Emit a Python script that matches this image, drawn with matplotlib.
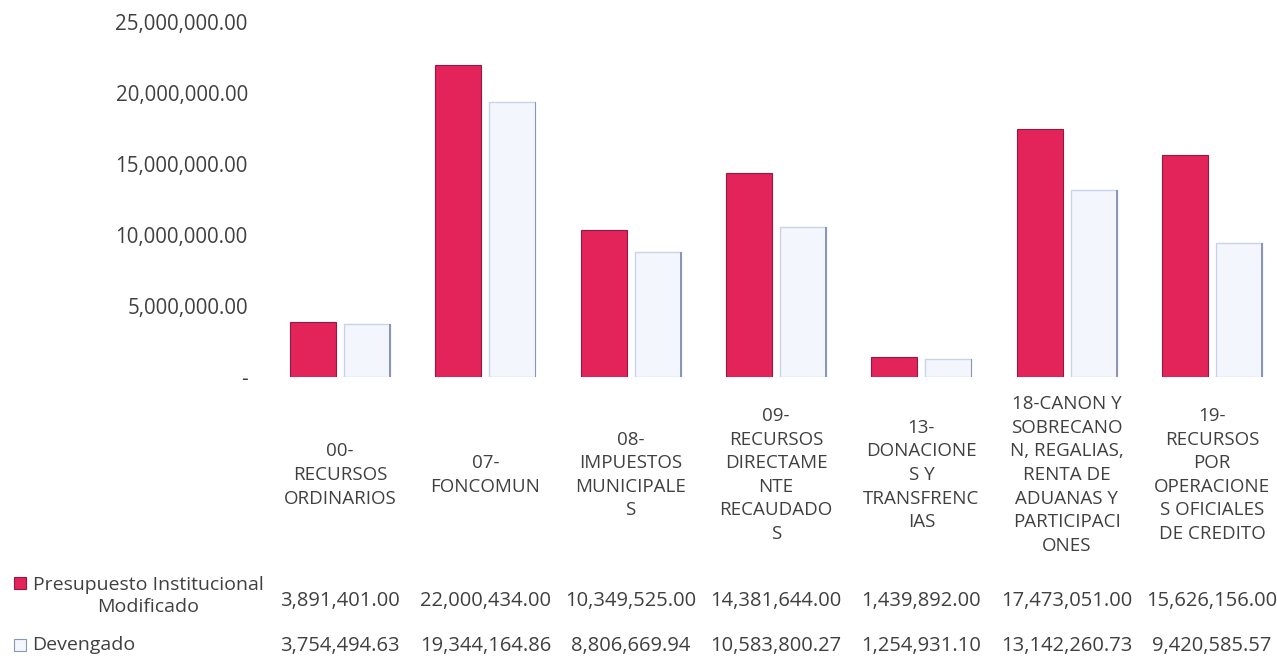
import numpy as np
import matplotlib.pyplot as plt
from matplotlib.patches import Rectangle

plt.rcParams['font.family'] = ['Open Sans', 'DejaVu Sans']

categorias = [
    "00-\nRECURSOS\nORDINARIOS",
    "07-\nFONCOMUN",
    "08-\nIMPUESTOS\nMUNICIPALE\nS",
    "09-\nRECURSOS\nDIRECTAME\nNTE\nRECAUDADO\nS",
    "13-\nDONACIONE\nS Y\nTRANSFRENC\nIAS",
    "18-CANON Y\nSOBRECANO\nN, REGALIAS,\nRENTA DE\nADUANAS Y\nPARTICIPACI\nONES",
    "19-\nRECURSOS\nPOR\nOPERACIONE\nS OFICIALES\nDE CREDITO",
]
pim = [3891401.00, 22000434.00, 10349525.00, 14381644.00, 1439892.00, 17473051.00, 15626156.00]
devengado = [3754494.63, 19344164.86, 8806669.94, 10583800.27, 1254931.10, 13142260.73, 9420585.57]
series = ["Presupuesto Institucional\nModificado", "Devengado"]
yticks = [0, 5000000, 10000000, 15000000, 20000000, 25000000]

gris = '#404040'
rojo = '#E2245B'
celeste = '#F3F6FC'

W, H = 1277, 659
fig = plt.figure(figsize=(W / 100, H / 100), dpi=100)
x0, x1 = 267.3, 1284.7
y0, y1 = 377, 22
ax = fig.add_axes([x0 / W, 1 - y0 / H, (x1 - x0) / W, (y0 - y1) / H])

x = np.arange(len(categorias))
ax.bar(x - 0.186, pim, width=0.317, color=rojo, edgecolor='#9A1640', linewidth=0.8)
ax.bar(x + 0.186, devengado, width=0.317, color=celeste, edgecolor='#C8D3EA', linewidth=1.0)
# borde derecho oscuro de las barras claras
ax.bar(x + 0.186 + 0.1585, devengado, width=0.012, color='#8A96B2', linewidth=0)
ax.set_xlim(-0.5, len(categorias) - 0.5)
ax.set_ylim(0, 25000000)
ax.set_yticks(yticks)
ax.set_yticklabels(['-' if v == 0 else f"{v:,.2f}" for v in yticks])
ax.tick_params(axis='y', length=0, pad=14, labelsize=14.8, labelcolor=gris)
ax.set_xticks([])
for s in ax.spines.values():
    s.set_visible(False)

# etiquetas de categoria
yc = 475
for i, c in enumerate(categorias):
    fig.text((x0 + (i + 0.5) * (x1 - x0) / len(categorias)) / W, 1 - yc / H, c,
             ha='center', va='center', fontsize=13.5, color=gris, linespacing=1.4)

# tabla de datos
filas = [(pim, 601), (devengado, 646)]
for vals, yy in filas:
    for i, v in enumerate(vals):
        fig.text((x0 + (i + 0.5) * (x1 - x0) / len(categorias)) / W, 1 - yy / H, f"{v:,.2f}",
                 ha='center', va='center', fontsize=14.5, color=gris)

fig.patches.append(Rectangle((14 / W, 1 - 589 / H), 12 / W, 12 / H, transform=fig.transFigure,
                             facecolor=rojo, edgecolor='#9A1640', lw=0.8))
fig.patches.append(Rectangle((14 / W, 1 - 651 / H), 12 / W, 12 / H, transform=fig.transFigure,
                             facecolor=celeste, edgecolor='#8A96B2', lw=0.8))
fig.text(148 / W, 1 - 596 / H, series[0], ha='center', va='center', fontsize=14,
         color=gris, linespacing=1.35)
fig.text(32 / W, 1 - 645 / H, series[1], ha='left', va='center', fontsize=14, color=gris)

fig.savefig('out.png', dpi=100)
